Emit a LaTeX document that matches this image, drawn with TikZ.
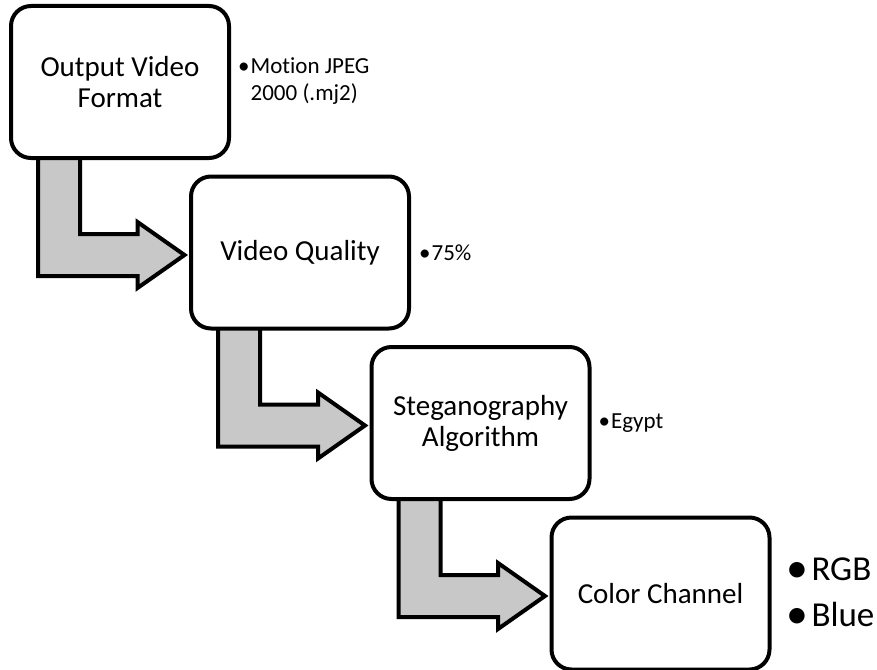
\documentclass[tikz,border=0pt]{standalone}
\usepackage{fontspec}
\usepackage{graphicx}
\setmainfont{Carlito}[Ligatures=NoCommon]
\usetikzlibrary{calc}
\definecolor{arrowgray}{RGB}{200,200,200}
\tikzset{
  box/.style={draw=black, line width=4pt, fill=white, rounded corners=20pt,
    minimum width=218pt, minimum height=152pt, align=center, inner sep=0pt,
    font=\fontsize{29}{31}\selectfont},
  bigarrow/.style={draw=black, line width=4pt, fill=arrowgray, line join=miter},
  side/.style={anchor=west, inner sep=0pt, align=left, font=\fontsize{23}{27}\selectfont},
  bigside/.style={anchor=west, inner sep=0pt, align=left, font=\fontsize{35}{46}\selectfont}
}
\newcommand\bigbul{\raisebox{-0.06em}{\scalebox{1.25}{•}}}
\newcommand\bentarrow[2]{%
  \draw[bigarrow] let \p1=(#1.south west), \p2=(#2.west) in
    (\x1+29pt,\y1+20pt) -- (\x1+29pt,\y2-23.5pt) -- (\x2-51.5pt,\y2-23.5pt)
    -- (\x2-51.5pt,\y2-35.5pt) -- (\x2-4.5pt,\y2-2.5pt) -- (\x2-51.5pt,\y2+30.5pt)
    -- (\x2-51.5pt,\y2+18.5pt) -- (\x1+71pt,\y2+18.5pt) -- (\x1+71pt,\y1+20pt) -- cycle;}
\begin{document}
\begin{tikzpicture}[x=1pt,y=1pt]
\useasboundingbox (0,0) rectangle (877,-669);
\path (120,-82) coordinate (c1) (300,-252.5) coordinate (c2)
      (480.5,-423) coordinate (c3) (660.5,-593.5) coordinate (c4);
% invisible placeholders to get anchors for arrows (boxes drawn on top)
\node[box, draw=none, fill=none] (p1) at (c1) {};
\node[box, draw=none, fill=none] (p2) at (c2) {};
\node[box, draw=none, fill=none] (p3) at (c3) {};
\node[box, draw=none, fill=none] (p4) at (c4) {};
\bentarrow{p1}{p2}
\bentarrow{p2}{p3}
\bentarrow{p3}{p4}
\node[box] (b1) at (c1) {Output Video\\Format};
\node[box] (b2) at (c2) {Video Quality};
\node[box] (b3) at (c3) {Steganography\\Algorithm};
\node[box] (b4) at (c4) {Color Channel};
\node[side] (s1) at ($(b1.east)+(7,0)$) {\begin{tabular}{@{}l@{\hspace{1pt}}l@{}}•&Motion JPEG\\&2000 (.mj2)\end{tabular}};
\node[side] (s2) at ($(b2.east)+(8,0)$) {•\hspace{1pt}75\%};
\node[side] (s3) at ($(b3.east)+(7,0)$) {•\hspace{1pt}Egypt};
\node[bigside] (s4) at ($(b4.east)+(15,0)$) {\bigbul\hspace{3pt}RGB\\\bigbul\hspace{3pt}Blue};
\end{tikzpicture}
\end{document}
